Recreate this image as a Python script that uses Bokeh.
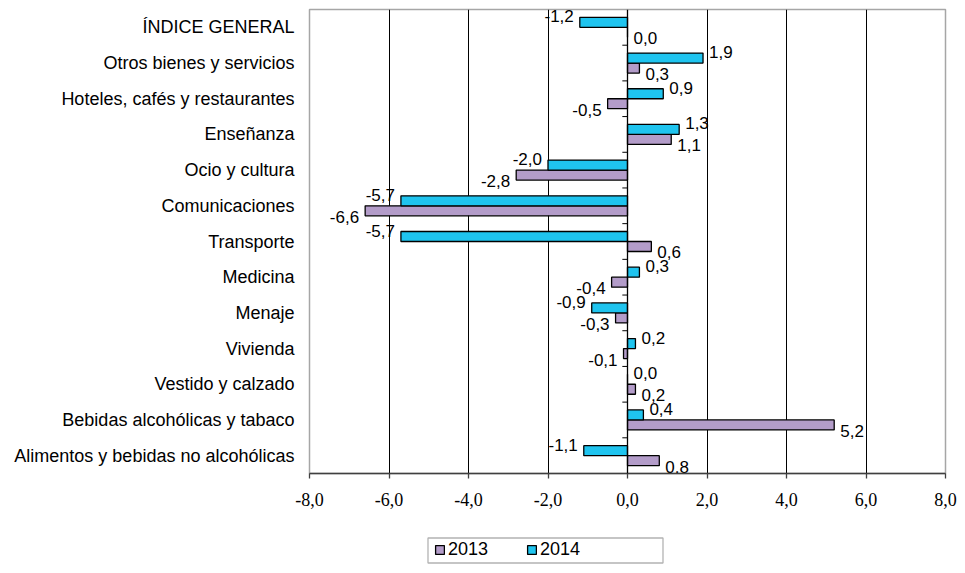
from bokeh.plotting import figure
from bokeh.layouts import column
from bokeh.models import (FactorRange, Range1d, ColumnDataSource, Span,
                          FixedTicker, Legend, LegendItem, BoxAnnotation)
from bokeh.transform import dodge
from bokeh.core.properties import value
from bokeh.embed import file_html
from bokeh.resources import INLINE

# ---- data (bottom to top) ----
categories = [
    "Alimentos y bebidas no alcohólicas",
    "Bebidas alcohólicas y tabaco",
    "Vestido y calzado",
    "Vivienda",
    "Menaje",
    "Medicina",
    "Transporte",
    "Comunicaciones",
    "Ocio y cultura",
    "Enseñanza",
    "Hoteles, cafés y restaurantes",
    "Otros bienes y servicios",
    "ÍNDICE GENERAL",
]
v2013 = [0.8, 5.2, 0.2, -0.1, -0.3, -0.4, 0.6, -6.6, -2.8, 1.1, -0.5, 0.3, 0.0]
v2014 = [-1.1, 0.4, 0.0, 0.2, -0.9, 0.3, -5.7, -5.7, -2.0, 1.3, 0.9, 1.9, -1.2]
series_names = ["2013", "2014"]
x_ticks = [-8, -6, -4, -2, 0, 2, 4, 6, 8]
grid_ticks = [-6, -4, -2, 2, 4, 6]

C2013 = "#B39CC9"
C2014 = "#1FC4EF"
SANS = "Liberation Sans"
SERIF = "Liberation Serif"
W = 960
FL, FR = 309, 945   # frame left / right in page pixels


def fmt(v):
    return f"{v:.1f}".replace(".", ",")


def align(vals):
    return ["left" if v >= 0 else "right" for v in vals]


def xoff(vals):
    return [6 if v >= 0 else -6 for v in vals]


src = ColumnDataSource(dict(
    cat=categories,
    v13=v2013, v14=v2014,
    t13=[fmt(v) for v in v2013], t14=[fmt(v) for v in v2014],
    a13=align(v2013), a14=align(v2014),
    o13=xoff(v2013), o14=xoff(v2014),
    zero=[0] * len(categories),
))

p = figure(width=W, height=535,
           y_range=FactorRange(factors=categories, range_padding=0),
           x_range=Range1d(-8, 8),
           output_backend="svg", toolbar_location=None,
           min_border_left=FL, min_border_right=W - FR,
           min_border_top=9, min_border_bottom=62)

p.background_fill_color = "white"
p.border_fill_color = "white"
p.outline_line_color = "#A6A6A6"
p.outline_line_width = 1.5

# grid
p.ygrid.grid_line_color = None
p.xgrid.ticker = FixedTicker(ticks=grid_ticks)
p.xgrid.grid_line_color = "black"
p.xgrid.grid_line_width = 1

# bars
y13 = dodge("cat", -0.14, range=p.y_range)
y14 = dodge("cat", 0.14, range=p.y_range)
r13 = p.hbar(y=y13, left="zero", right="v13", height=0.28, source=src,
             fill_color=C2013, line_color="black", line_width=1.3)
r14 = p.hbar(y=y14, left="zero", right="v14", height=0.28, source=src,
             fill_color=C2014, line_color="black", line_width=1.3)

# zero axis with category ticks
p.add_layout(Span(location=0, dimension="height", line_color="black",
                  line_width=1.3))
yb = dodge("cat", -0.5, range=p.y_range)
p.segment(x0=-0.13, x1="zero", y0=yb, y1=yb, source=src,
          line_color="black", line_width=1)

# value labels
p.text(x="v14", y=y14, text="t14", source=src, text_align="a14",
       x_offset="o14", y_offset=-6, text_baseline="middle",
       text_font=value(SANS), text_font_size="17px", text_color="black")
p.text(x="v13", y=y13, text="t13", source=src, text_align="a13",
       x_offset="o13", y_offset=6, text_baseline="middle",
       text_font=value(SANS), text_font_size="17px", text_color="black")

# x axis
xa = p.xaxis[0]
xa.ticker = FixedTicker(ticks=x_ticks)
xa.major_label_overrides = {t: fmt(t) for t in x_ticks}
xa.major_label_text_font = SERIF
xa.major_label_text_font_size = "18px"
xa.major_label_text_font_style = "normal"
xa.major_label_text_color = "black"
xa.major_label_standoff = 14
xa.axis_line_color = "#404040"
xa.axis_line_width = 1.5
xa.major_tick_line_color = "#404040"
xa.major_tick_line_width = 1.3
xa.major_tick_out = 5
xa.major_tick_in = 0
xa.minor_tick_line_color = None

# y axis (category labels)
ya = p.yaxis[0]
ya.axis_line_color = None
ya.major_tick_line_color = None
ya.major_tick_out = 0
ya.major_tick_in = 0
ya.minor_tick_line_color = None
ya.major_label_text_font = SANS
ya.major_label_text_font_size = "18px"
ya.major_label_text_font_style = "normal"
ya.major_label_text_color = "black"
ya.major_label_standoff = 15

# ---- legend strip below the chart (frame aligned with the chart's) ----
LH = 35
pl = figure(width=W, height=LH, x_range=Range1d(FL, FR), y_range=Range1d(0, LH),
            output_backend="svg", toolbar_location=None,
            x_axis_location=None, y_axis_location=None,
            min_border_left=FL, min_border_right=W - FR,
            min_border_top=0, min_border_bottom=0)
pl.outline_line_color = None
pl.xgrid.visible = False
pl.ygrid.visible = False
pl.background_fill_color = "white"
pl.border_fill_color = "white"

# off-screen swatch sources so the legend glyphs get their colours
swatch = ColumnDataSource(dict(y=[-100], left=[FL], right=[FL]))
l13 = pl.hbar(y="y", left="left", right="right", height=1, source=swatch,
              fill_color=C2013, line_color="black", line_width=1.3)
l14 = pl.hbar(y="y", left="left", right="right", height=1, source=swatch,
              fill_color=C2014, line_color="black", line_width=1.3)

pl.add_layout(BoxAnnotation(left=427.5, right=662.5, bottom=LH - 27.5,
                            top=LH - 2.5,
                            fill_color="white", fill_alpha=1,
                            line_color="black", line_width=1.3,
                            level="underlay"))

legend = Legend(items=[LegendItem(label=series_names[0], renderers=[l13]),
                       LegendItem(label=series_names[1], renderers=[l14])],
                location=(434 - FL, LH - 27 + 2), orientation="horizontal",
                glyph_width=11, glyph_height=11, label_standoff=3,
                label_width=78, label_height=17, spacing=0, padding=4,
                margin=0,
                label_text_font=SANS, label_text_font_size="18px",
                label_text_color="black",
                border_line_color=None,
                background_fill_alpha=0)
pl.add_layout(legend)

layout = column(p, pl, spacing=0)
open("out.html", "w").write(file_html(layout, INLINE))
